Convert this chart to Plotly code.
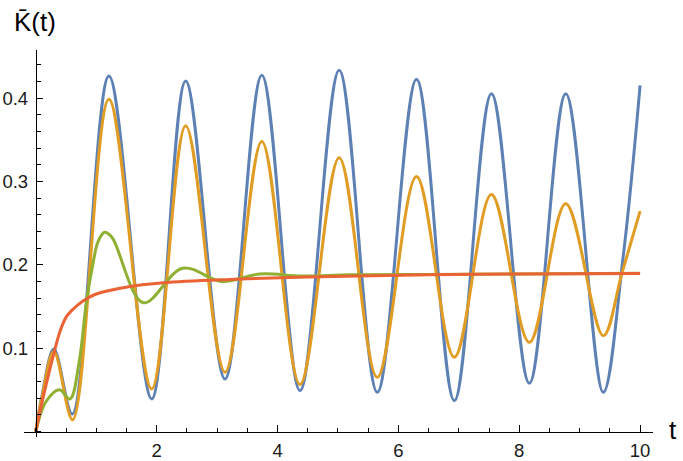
import plotly.graph_objects as go

# ---- data ----
t_blue = [0, 0.10, 0.30, 0.604, 1.21, 1.918, 2.48, 3.131, 3.74, 4.372, 5.02, 5.651,
          6.30, 6.926, 7.54, 8.167, 8.77, 9.39, 9.72, 10.0]
k_blue = [0, 0.042, 0.099, 0.021, 0.4265, 0.039, 0.4205, 0.063, 0.4274, 0.049, 0.4334, 0.047,
          0.4226, 0.037, 0.4054, 0.058, 0.4054, 0.047, 0.21, 0.4154]

t_orange = [0, 0.10, 0.30, 0.61, 1.21, 1.918, 2.48, 3.131, 3.74, 4.372, 5.02, 5.651,
            6.30, 6.926, 7.54, 8.167, 8.77, 9.39, 9.70, 10.0]
k_orange = [0, 0.040, 0.096, 0.014, 0.3986, 0.051, 0.367, 0.0712, 0.348, 0.0564, 0.3285, 0.065,
            0.306, 0.0892, 0.2845, 0.107, 0.2733, 0.115, 0.19, 0.2645]

t_green = [0, 0.17, 0.39, 0.566, 0.72, 0.84, 0.95, 1.03, 1.14, 1.26, 1.78, 2.43,
           3.08, 3.71, 4.4, 5.2, 6.5, 8.0, 10.0]
k_green = [0, 0.036, 0.050, 0.039, 0.085, 0.157, 0.203, 0.228, 0.239, 0.233, 0.1545, 0.196,
           0.180, 0.189, 0.1865, 0.188, 0.1885, 0.189, 0.19]

t_red = [0, 0.10, 0.20, 0.30, 0.40, 0.50, 0.62, 0.787, 1.0, 1.56, 2.11, 3.21, 4.5, 6.5, 8.0, 10.0]
k_red = [0, 0.034, 0.065, 0.094, 0.120, 0.137, 0.147, 0.157, 0.165, 0.174, 0.1785, 0.1825,
         0.1855, 0.188, 0.189, 0.1895]

x_tickvals = [2, 4, 6, 8, 10]
x_ticktext = ["2", "4", "6", "8", "10"]
y_tickvals = [0.1, 0.2, 0.3, 0.4]
y_ticktext = ["0.1", "0.2", "0.3", "0.4"]

colors = ["#5E81B5", "#E19C24", "#8FB032", "#EB6235"]

fig = go.Figure()
for t, k, c in [(t_blue, k_blue, colors[0]), (t_orange, k_orange, colors[1]),
                (t_green, k_green, colors[2]), (t_red, k_red, colors[3])]:
    fig.add_trace(go.Scatter(x=t, y=k, mode="lines",
                             line=dict(color=c, width=3, shape="spline", smoothing=1),
                             hoverinfo="skip", showlegend=False))

W, H = 683, 461
# plot box (pixels) that the axis lines span
x_left, x_right = 24.0, 652.7
y_top, y_bottom = 50.0, 437.0
px_per_t = 60.43
px_per_k = 833.3
t0_px = 35.8
k0_py = 431.5
xmin = (x_left - t0_px) / px_per_t
xmax = (x_right - t0_px) / px_per_t
ymin = (k0_py - y_bottom) / px_per_k
ymax = (k0_py - y_top) / px_per_k

font_family = "Liberation Sans, Arial, sans-serif"
tickfont = dict(family=font_family, size=18.5, color="#1a1a1a")

fig.update_layout(
    width=W, height=H,
    margin=dict(l=0, r=0, t=0, b=0, pad=0, autoexpand=False),
    paper_bgcolor="white", plot_bgcolor="white",
    xaxis=dict(domain=[x_left / W, x_right / W], range=[xmin, xmax],
               anchor="free", position=(H - k0_py) / H, side="bottom",
               showline=True, linecolor="black", linewidth=1,
               showgrid=False, zeroline=False, automargin=False,
               tickmode="array", tickvals=x_tickvals, ticktext=x_ticktext,
               ticks="inside", ticklen=6.5, tickwidth=1, tickcolor="black",
               tickfont=tickfont, ticklabelstandoff=2,
               minor=dict(ticks="inside", ticklen=4, tickwidth=1, tickcolor="black",
                          tick0=0, dtick=0.5, showgrid=False)),
    yaxis=dict(domain=[(H - y_bottom) / H, (H - y_top) / H], range=[ymin, ymax],
               anchor="free", position=t0_px / W, side="left",
               showline=True, linecolor="black", linewidth=1,
               showgrid=False, zeroline=False, automargin=False,
               tickmode="array", tickvals=y_tickvals, ticktext=y_ticktext,
               ticks="inside", ticklen=6.5, tickwidth=1, tickcolor="black",
               tickfont=tickfont, ticklabelstandoff=4,
               minor=dict(ticks="inside", ticklen=4, tickwidth=1, tickcolor="black",
                          tick0=0, dtick=0.02, showgrid=False)),
    annotations=[
        dict(text="K\u0304(t)", xref="paper", yref="paper",
             x=12 / W, y=(H - 22) / H, xanchor="left", yanchor="middle",
             showarrow=False, font=dict(family=font_family, size=26, color="black")),
        dict(text="t", xref="paper", yref="paper",
             x=673 / W, y=(H - 430) / H, xanchor="center", yanchor="middle",
             showarrow=False, font=dict(family=font_family, size=26, color="black")),
    ],
)

fig.write_html("out.html",
               config={"displayModeBar": False},
               post_script="document.body.style.margin='0';"
                           "document.body.style.overflow='hidden';")
